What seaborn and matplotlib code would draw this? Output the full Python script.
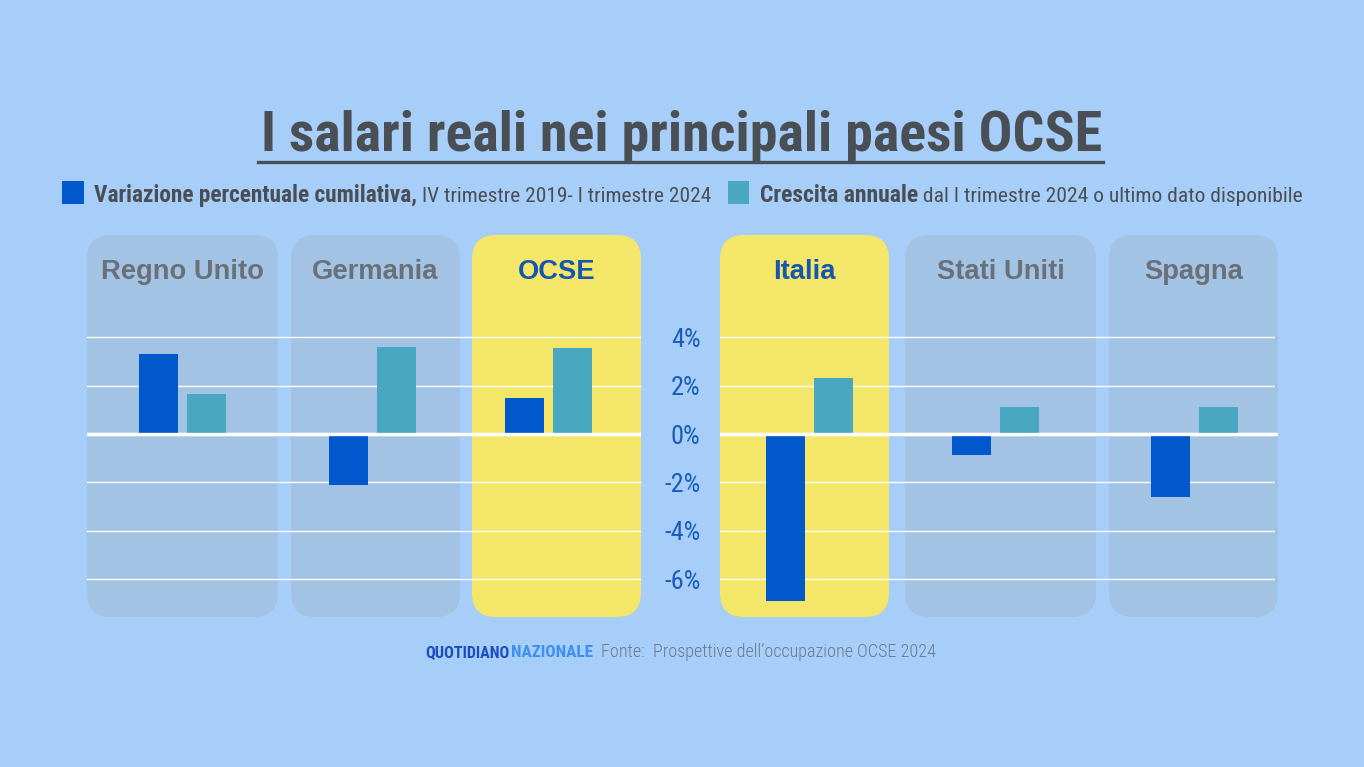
import numpy as np
import pandas as pd
import matplotlib
matplotlib.use("Agg")
import matplotlib.pyplot as plt
import seaborn as sns
from matplotlib import font_manager as fm
from matplotlib.font_manager import FontProperties
from matplotlib.patches import FancyBboxPatch, Rectangle
from matplotlib.transforms import IdentityTransform

# ---------------- data ----------------
countries = ["Regno Unito", "Germania", "OCSE", "Italia", "Stati Uniti", "Spagna"]
cumulative_change = [3.3, -2.1, 1.5, -6.9, -0.85, -2.6]   # IV trim. 2019 - I trim. 2024
annual_growth = [1.65, 3.6, 3.55, 2.33, 1.13, 1.13]       # crescita annuale
series_names = ["Variazione percentuale cumilativa", "Crescita annuale"]
highlighted = ["OCSE", "Italia"]
y_ticks = [-6, -4, -2, 0, 2, 4]
y_tick_labels = ["-6%", "-4%", "-2%", "0%", "2%", "4%"]

title = "I salari reali nei principali paesi OCSE"
legend_bold = ["Variazione percentuale cumilativa,", "Crescita annuale"]
legend_rest = [" IV trimestre 2019- I trimestre 2024", " dal I trimestre 2024 o ultimo dato disponibile"]
brand = ["QUOTIDIANO", "NAZIONALE"]
source = "Fonte:  Prospettive dell\u2019occupazione OCSE 2024"

# ---------------- style ----------------
BG = "#a6cef8"
PANEL = "#a2c3e3"
YELLOW = "#f3e668"
BLUE = "#0058cc"
TEAL = "#49a8bf"
DARK = "#4a4f56"
TITLE_GRAY = "#6a7077"
TITLE_BLUE = "#1456b0"
TICK_BLUE = "#1a5cb8"

W, H = 1364, 767
fig = plt.figure(figsize=(W / 100, H / 100), dpi=100, facecolor=BG)
renderer = fig.canvas.get_renderer()

def fx(x):
    return x / W

def fy(y):
    return 1 - y / H

# ---------------- fonts ----------------
WMAP = {"normal": 400, "regular": 400, "book": 400, "bold": 700, "light": 300, "medium": 500,
        "semibold": 600, "demibold": 600, "black": 900, "heavy": 900, "ultralight": 200,
        "thin": 100, "extra bold": 800, "ultrabold": 800, "demi": 600}

def wnum(w):
    if isinstance(w, (int, float)):
        return w
    return WMAP.get(str(w).lower(), 400)

def is_condensed(f):
    st = str(f.stretch).lower()
    if "condensed" in st or "narrow" in st:
        return True
    try:
        if int(st) < 100:
            return True
    except ValueError:
        pass
    n = (f.name + " " + f.fname).lower()
    return "condensed" in n or "narrow" in n

PREF = ["roboto", "open sans", "noto sans", "liberation sans", "dejavu sans"]

def cond_font(weight):
    best = None
    for f in fm.fontManager.ttflist:
        if f.style != "normal" or not is_condensed(f):
            continue
        n = f.name.lower()
        rank = len(PREF)
        for i, p in enumerate(PREF):
            if n.startswith(p):
                rank = i
                break
        if rank == len(PREF):
            continue
        if "mono" in n or "serif" in n:
            continue
        score = (rank, abs(wnum(f.weight) - weight))
        if best is None or score < best[0]:
            best = (score, f.fname)
    if best is not None:
        return FontProperties(fname=best[1])
    return FontProperties(family=["Roboto", "DejaVu Sans"], weight=weight)

COND_BOLD = cond_font(700)
COND_REG = cond_font(400)
COND_LIGHT = cond_font(300)
PANEL_FONT = FontProperties(family=["Liberation Sans", "DejaVu Sans"], weight="bold")

def put(x, y, s, fp, size, color, ha="left", va="baseline", **kw):
    p = fp.copy()
    p.set_size(size)
    return fig.text(fx(x), fy(y), s, fontproperties=p, color=color, ha=ha, va=va, **kw)

def fit(t, target):
    w = t.get_window_extent(renderer).width
    p = t.get_fontproperties().copy()
    p.set_size(p.get_size() * target / w)
    t.set_fontproperties(p)
    return t

def right_edge(t):
    return t.get_window_extent(renderer).x1

# ---------------- layout ----------------
panels_px = [(87, 278), (291, 460), (472, 641), (720, 889), (905, 1096), (1109, 1278)]
group_centers_px = [182.5, 372.5, 548.5, 809, 995, 1194]
PTOP, PBOT = 235, 617
ZERO_PX, PX_PER_PCT = 434, 24.2
y_hi = (ZERO_PX - PTOP) / PX_PER_PCT
y_lo = -(PBOT - ZERO_PX) / PX_PER_PCT
BAR_STEP = 48.0
BAR_W = 39.0 / BAR_STEP

# background axes with gridlines (two segments, label column between)
bg_axes = []
for (x0, x1) in [(87, 641), (720, 1275)]:
    ax = fig.add_axes([fx(x0), fy(PBOT), (x1 - x0) / W, (PBOT - PTOP) / H])
    ax.set_facecolor("none")
    ax.set_xlim(0, 1)
    ax.set_ylim(y_lo, y_hi)
    for t in y_ticks:
        ax.axhline(t, color="white", lw=2.4 if t == 0 else 1.0, zorder=1)
    for s in ax.spines.values():
        s.set_visible(False)
    ax.set_xticks([])
    ax.set_yticks([])
    bg_axes.append(ax)

ax_r = bg_axes[1]
ax_r.set_yticks(y_ticks)
tp = COND_REG.copy()
tp.set_size(19)
ax_r.set_yticklabels(y_tick_labels, fontproperties=tp, color=TICK_BLUE)
ax_r.tick_params(axis="y", length=0, pad=14)

# panels
for (x0, x1), c in zip(panels_px, countries):
    col = YELLOW if c in highlighted else PANEL
    patch = FancyBboxPatch((x0, H - PBOT), x1 - x0, PBOT - PTOP,
                           boxstyle="round,pad=0,rounding_size=24",
                           transform=IdentityTransform(), facecolor=col,
                           edgecolor="none", zorder=-5)
    fig.add_artist(patch)

# panel titles
ptitles = []
for (x0, x1), c in zip(panels_px, countries):
    col = TITLE_BLUE if c in highlighted else TITLE_GRAY
    ptitles.append(put((x0 + x1) / 2, 269, c, PANEL_FONT, 18, col, ha="center", va="center_baseline"))
fit(ptitles[0], 163)
sz = ptitles[0].get_fontproperties().get_size()
for t in ptitles[1:]:
    p = t.get_fontproperties().copy()
    p.set_size(sz)
    t.set_fontproperties(p)

# bars
for i, ((x0, x1), c) in enumerate(zip(panels_px, countries)):
    df = pd.DataFrame({"serie": series_names,
                       "valore": [cumulative_change[i], annual_growth[i]]})
    ax = fig.add_axes([fx(x0), fy(PBOT), (x1 - x0) / W, (PBOT - PTOP) / H])
    ax.set_facecolor("none")
    sns.barplot(data=df, x="serie", y="valore", hue="serie", order=series_names,
                hue_order=series_names, palette=[BLUE, TEAL], width=BAR_W,
                saturation=1, linewidth=0, legend=False, errorbar=None, ax=ax)
    gc = group_centers_px[i]
    ax.set_xlim(0.5 - (gc - x0) / BAR_STEP, 0.5 + (x1 - gc) / BAR_STEP)
    ax.set_ylim(y_lo, y_hi)
    ax.axhline(0, color="white", lw=2.4, zorder=10)
    ax.axis("off")

# ---------------- title ----------------
tt = put(682, 151, title, COND_BOLD, 38, DARK, ha="center")
fit(tt, 841)
fig.add_artist(plt.Line2D([fx(258), fx(1103)], [fy(162), fy(162)], color=DARK, lw=2.4,
                          transform=fig.transFigure))

# ---------------- legend ----------------
fig.add_artist(Rectangle((fx(62), fy(204)), 22 / W, 23 / H, transform=fig.transFigure,
                         facecolor=BLUE, edgecolor="none"))
fig.add_artist(Rectangle((fx(728), fy(204)), 21 / W, 23 / H, transform=fig.transFigure,
                         facecolor=TEAL, edgecolor="none"))

lb1 = put(94, 202, legend_bold[0], COND_BOLD, 16, DARK)
fit(lb1, 323)
lr1 = put(right_edge(lb1), 202, legend_rest[0], COND_REG, 16, DARK)
fit(lr1, 713 - right_edge(lb1))

lb2 = put(760, 202, legend_bold[1], COND_BOLD, 16, DARK)
fit(lb2, 158)
lr2 = put(right_edge(lb2), 202, legend_rest[1], COND_REG, 16, DARK)
fit(lr2, 1303 - right_edge(lb2))

# ---------------- footer ----------------
q1 = put(425, 657, brand[0], COND_BOLD, 12, "#1a4cc2")
fit(q1, 84)
q2 = put(right_edge(q1) + 2, 657, brand[1], COND_BOLD, 12, "#3f8ff0")
fit(q2, 82)
fs = put(601, 657, source, COND_LIGHT, 14, "#6b7a8c")
fit(fs, 335)

fig.savefig("out.png", dpi=100, facecolor=BG)
